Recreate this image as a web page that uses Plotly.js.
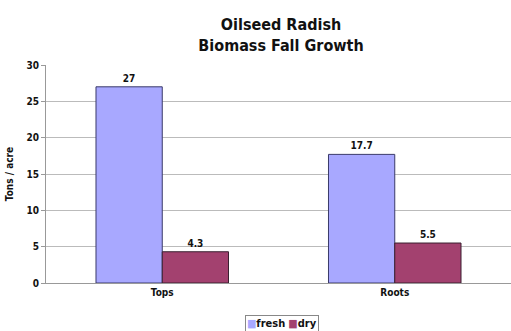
<!DOCTYPE html>
<html><head><meta charset="utf-8">
<script src="https://cdn.plot.ly/plotly-3.0.1.min.js"></script>
<style>html,body{margin:0;padding:0;background:#fff}#c{width:511px;height:331px}</style>
</head><body><div id="c"></div>
<script>
const categories = ["Tops", "Roots"];
const seriesNames = ["fresh", "dry"];
const fresh = [27, 17.7];
const dry = [4.3, 5.5];
const colors = ["#A8A8FF", "#A3416F"];
const FONT = "DejaVu Sans Condensed, Liberation Sans Narrow, Arial Narrow, sans-serif";
const traces = [
  {type:"bar", name:seriesNames[0], x:categories, y:fresh, text:fresh.map(v => "<b>" + v + "</b>"), textposition:"outside", cliponaxis:false,
   marker:{color:colors[0], line:{color:"#3A3A6A", width:1}}, textfont:{family:FONT, size:10, color:"#111"}},
  {type:"bar", name:seriesNames[1], x:categories, y:dry, text:dry.map(v => "<b>" + v + "</b>"), textposition:"outside", cliponaxis:false,
   marker:{color:colors[1], line:{color:"#3A2030", width:1}}, textfont:{family:FONT, size:10, color:"#111"}}
];
const legendText = seriesNames.map((n, i) => "<span style='color:" + colors[i] + "'>■</span><b>" + n + "</b>").join(" ");
const layout = {
  width:511, height:331, paper_bgcolor:"#fff", plot_bgcolor:"#fff",
  margin:{l:46, r:0, t:65, b:48, autoexpand:false},
  font:{family:FONT, color:"#111", size:10},
  title:{text:"<b>Oilseed Radish<br>Biomass Fall Growth</b>", x:0.55, xanchor:"center", y:0.91, yanchor:"top", font:{family:FONT, size:16, color:"#111"}},
  barmode:"group", bargap:0.43, bargroupgap:0,
  xaxis:{showgrid:false, showline:true, linecolor:"#999", ticks:"", tickfont:{family:FONT, size:10, color:"#111"}, tickprefix:"<b>", ticksuffix:"</b>"},
  yaxis:{range:[0,30], dtick:5, showgrid:true, gridcolor:"#bbb", showline:true, linecolor:"#999", ticks:"outside", ticklen:4, tickcolor:"#999",
         tickprefix:"<b>", ticksuffix:"</b>", tickfont:{family:FONT, size:10, color:"#111"}, zeroline:false,
         title:{text:"<b>Tons / acre</b>", font:{family:FONT, size:10, color:"#111"}, standoff:10}},
  showlegend:false,
  annotations:[{xref:"paper", yref:"paper", x:0.507, y:-0.185, xanchor:"center", yanchor:"middle", showarrow:false,
    text:legendText, font:{family:FONT, size:11, color:"#111"}, bordercolor:"#888", borderwidth:1, borderpad:1, bgcolor:"#fff"}]
};
Plotly.newPlot("c", traces, layout, {displayModeBar:false, staticPlot:true});
</script></body></html>
